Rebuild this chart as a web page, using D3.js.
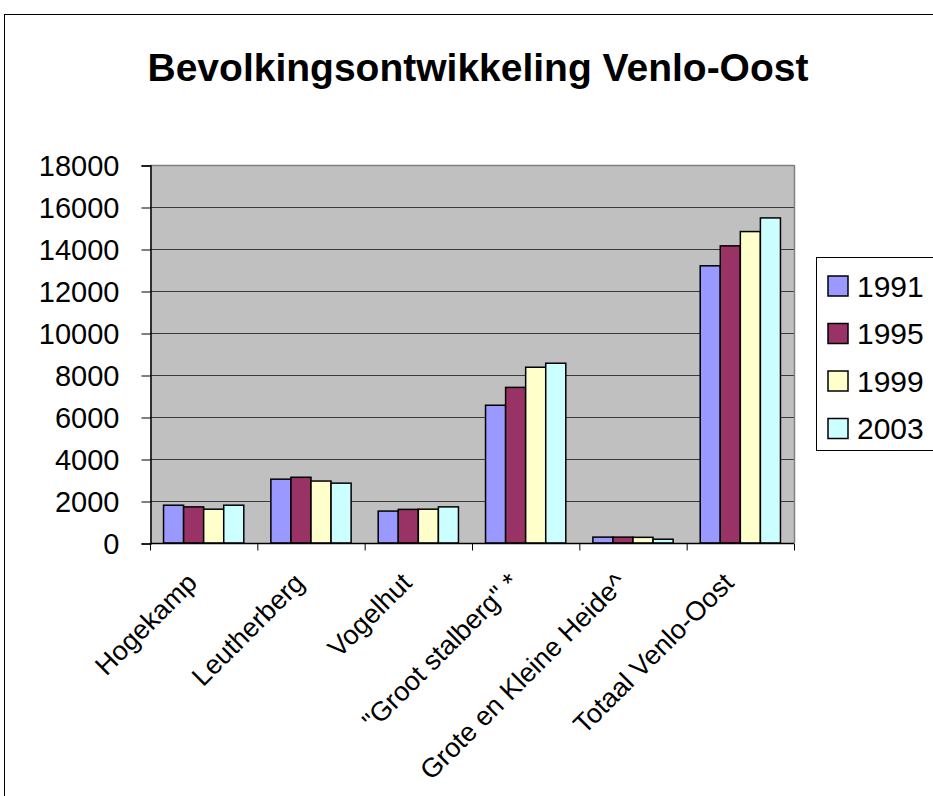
<!DOCTYPE html>
<html>
	<meta charset="utf-8" />
	<style>
		html,
		body,
		svg {
			padding: 0px;
			margin: 0px;
			background: #fff;
		}
		text {
			font-family: Arial, "Liberation Sans", sans-serif;
			fill: #000;
		}
	</style>
	<svg width="933" height="796"></svg>
	<script src="https://d3js.org/d3.v7.min.js"></script>
	<script>
		var categories = ["Hogekamp", "Leutherberg", "Vogelhut", '"Groot stalberg" *', "Grote en Kleine Heide^", "Totaal Venlo-Oost"];
		var years = ["1991", "1995", "1999", "2003"];
		var v1991 = [1800, 3040, 1520, 6560, 280, 13200];
		var v1995 = [1720, 3130, 1600, 7410, 280, 14150];
		var v1999 = [1610, 2950, 1610, 8370, 270, 14830];
		var v2003 = [1800, 2850, 1720, 8560, 180, 15480];
		var yTicks = [0, 2000, 4000, 6000, 8000, 10000, 12000, 14000, 16000, 18000];
		var colors = ["#9999FF", "#993366", "#FFFFCC", "#CCFFFF"];

		var series = [v1991, v1995, v1999, v2003];
		var svg = d3.select("svg");

		// outer chart frame (runs past the window on right and bottom)
		svg.append("rect")
			.attr("x", 4.5)
			.attr("y", 14.5)
			.attr("width", 1000)
			.attr("height", 900)
			.attr("fill", "#fff")
			.attr("stroke", "#000")
			.attr("stroke-width", 1);

		var plot = { left: 150, top: 165, right: 794, bottom: 543 };

		var x = d3.scaleBand().domain(categories).range([plot.left, plot.right]).paddingInner(0).paddingOuter(0);
		var x1 = d3.scaleBand().domain(years).range([0, x.bandwidth()]).paddingOuter(0.675);
		var y = d3.scaleLinear().domain([0, 18000]).range([plot.bottom, plot.top]);

		svg.append("text")
			.attr("x", 478)
			.attr("y", 81)
			.attr("text-anchor", "middle")
			.attr("font-size", 39)
			.attr("font-weight", "bold")
			.text("Bevolkingsontwikkeling Venlo-Oost");

		svg.append("rect")
			.attr("x", plot.left)
			.attr("y", plot.top)
			.attr("width", plot.right - plot.left)
			.attr("height", plot.bottom - plot.top)
			.attr("fill", "#C0C0C0");

		svg.append("g")
			.selectAll("line")
			.data(yTicks.slice(1))
			.enter()
			.append("line")
			.attr("x1", plot.left)
			.attr("x2", plot.right)
			.attr("y1", function (d) {
				return y(d) + 0.5;
			})
			.attr("y2", function (d) {
				return y(d) + 0.5;
			})
			.attr("stroke", function (d) {
				return d == 18000 ? "#808080" : "#3a3a3a";
			})
			.attr("stroke-width", function (d) {
				return d == 18000 ? 1.5 : 1;
			});

		svg.append("line")
			.attr("x1", plot.right + 0.5)
			.attr("x2", plot.right + 0.5)
			.attr("y1", plot.top)
			.attr("y2", plot.bottom)
			.attr("stroke", "#808080")
			.attr("stroke-width", 1.5);

		var groups = svg
			.append("g")
			.selectAll("g")
			.data(categories)
			.enter()
			.append("g")
			.attr("transform", function (d) {
				return "translate(" + x(d) + ",0)";
			});

		groups
			.selectAll("rect")
			.data(function (d, i) {
				return years.map(function (yr, j) {
					return { year: yr, value: series[j][i], c: colors[j] };
				});
			})
			.enter()
			.append("rect")
			.attr("x", function (d) {
				return x1(d.year);
			})
			.attr("y", function (d) {
				return y(d.value);
			})
			.attr("width", x1.bandwidth())
			.attr("height", function (d) {
				return y(0) - y(d.value);
			})
			.attr("fill", function (d) {
				return d.c;
			})
			.attr("stroke", "#000")
			.attr("stroke-width", 1.5);

		var yAxis = svg
			.append("g")
			.attr("transform", "translate(" + (plot.left + 0.5) + ",0.5)")
			.call(d3.axisLeft(y).tickValues(yTicks).tickSize(9).tickPadding(22).tickFormat(d3.format("d")));
		yAxis.select(".domain").attr("stroke", "#000").attr("stroke-width", 1.5);
		yAxis.selectAll("text").attr("font-size", 29).attr("font-family", "Arial, 'Liberation Sans', sans-serif").attr("dy", "0.36em");

		var xAxis = svg
			.append("g")
			.attr("transform", "translate(0," + (plot.bottom + 0.5) + ")");
		xAxis.append("line").attr("x1", plot.left).attr("x2", plot.right).attr("stroke", "#000").attr("stroke-width", 1.5);
		xAxis
			.selectAll(".tk")
			.data(categories.concat(["end"]))
			.enter()
			.append("line")
			.attr("class", "tk")
			.attr("x1", function (d, i) {
				return (i < categories.length ? x(d) : plot.right) + 0.5;
			})
			.attr("x2", function (d, i) {
				return (i < categories.length ? x(d) : plot.right) + 0.5;
			})
			.attr("y1", 0)
			.attr("y2", 7)
			.attr("stroke", "#000");
		xAxis
			.selectAll("text")
			.data(categories)
			.enter()
			.append("text")
			.attr("font-size", 27)
			.attr("text-anchor", "end")
			.attr("transform", function (d) {
				return "translate(" + (x(d) + x.bandwidth() / 2 - 5) + ",41) rotate(-45)";
			})
			.text(function (d) {
				return d;
			});

		// legend
		var legend = svg.append("g").attr("transform", "translate(816,257)");
		legend.append("rect").attr("x", 0.5).attr("y", 0.5).attr("width", 200).attr("height", 193).attr("fill", "#fff").attr("stroke", "#000");
		var items = legend
			.selectAll(".item")
			.data(years)
			.enter()
			.append("g")
			.attr("class", "item")
			.attr("transform", function (d, i) {
				return "translate(12," + (19 + i * 47.5) + ")";
			});
		items
			.append("rect")
			.attr("width", 20)
			.attr("height", 20)
			.attr("fill", function (d, i) {
				return colors[i];
			})
			.attr("stroke", "#000")
			.attr("stroke-width", 1.5);
		items
			.append("text")
			.attr("x", 29)
			.attr("y", 10)
			.attr("dy", "0.36em")
			.attr("font-size", 30)
			.text(function (d) {
				return d;
			});
	</script>
</html>
